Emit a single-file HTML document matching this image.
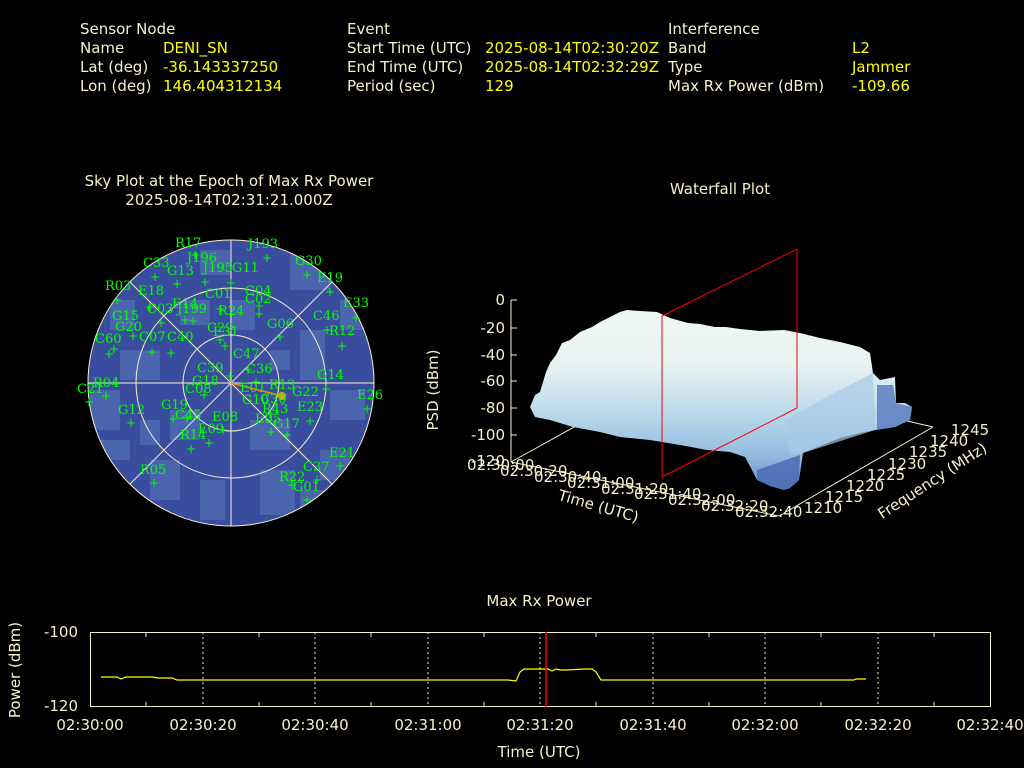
<!DOCTYPE html>
<html><head><meta charset="utf-8"><style>
html,body{margin:0;padding:0;background:#000;width:1024px;height:768px;overflow:hidden}
svg{display:block}
.l{fill:#f5f0c8;font-family:"DejaVu Sans","Liberation Sans",sans-serif;font-size:15px}
.v{fill:#ffff00;font-family:"DejaVu Sans","Liberation Sans",sans-serif;font-size:15px}
.g{fill:#00ff00;font-family:"DejaVu Serif","Liberation Serif",serif;font-size:13px}
.t{fill:#f5f0c8;font-family:"DejaVu Sans","Liberation Sans",sans-serif;font-size:15px}
</style></head><body>
<svg width="1024" height="768" viewBox="0 0 1024 768" xmlns="http://www.w3.org/2000/svg">
<rect width="1024" height="768" fill="#000"/>
<text class="l" x="80" y="34">Sensor Node</text>
<text class="l" x="80" y="53">Name</text><text class="v" x="163" y="53">DENI_SN</text>
<text class="l" x="80" y="72">Lat (deg)</text><text class="v" x="163" y="72">-36.143337250</text>
<text class="l" x="80" y="91">Lon (deg)</text><text class="v" x="163" y="91">146.404312134</text>
<text class="l" x="347" y="34">Event</text>
<text class="l" x="347" y="53">Start Time (UTC)</text><text class="v" x="485" y="53">2025-08-14T02:30:20Z</text>
<text class="l" x="347" y="72">End Time (UTC)</text><text class="v" x="485" y="72">2025-08-14T02:32:29Z</text>
<text class="l" x="347" y="91">Period (sec)</text><text class="v" x="485" y="91">129</text>
<text class="l" x="668" y="34">Interference</text>
<text class="l" x="668" y="53">Band</text><text class="v" x="852" y="53">L2</text>
<text class="l" x="668" y="72">Type</text><text class="v" x="852" y="72">Jammer</text>
<text class="l" x="668" y="91">Max Rx Power (dBm)</text><text class="v" x="852" y="91">-109.66</text>

<text class="t" x="229" y="186" text-anchor="middle" font-size="16">Sky Plot at the Epoch of Max Rx Power</text>
<text class="t" x="229" y="205" text-anchor="middle" font-size="16">2025-08-14T02:31:21.000Z</text>
<defs><clipPath id="cc"><circle cx="231" cy="383" r="143"/></clipPath></defs>
<circle cx="231" cy="383" r="143" fill="#3a4c9e"/>
<g clip-path="url(#cc)" fill="#5677b8" opacity="0.6">
<rect x="290" y="250" width="40" height="40"/><rect x="180" y="300" width="30" height="25"/>
<rect x="120" y="350" width="40" height="30"/><rect x="300" y="330" width="25" height="50"/>
<rect x="250" y="420" width="40" height="30"/><rect x="150" y="460" width="30" height="40"/>
<rect x="330" y="390" width="35" height="30"/><rect x="90" y="390" width="30" height="40"/>
<rect x="200" y="250" width="30" height="25"/><rect x="260" y="470" width="35" height="45"/>
<rect x="170" y="410" width="30" height="30"/><rect x="320" y="450" width="30" height="30"/>
<rect x="230" y="300" width="25" height="30"/><rect x="110" y="300" width="25" height="30"/>
<rect x="200" y="480" width="25" height="40"/><rect x="340" y="300" width="25" height="30"/>
<rect x="270" y="350" width="20" height="20"/><rect x="140" y="420" width="20" height="25"/>
<rect x="100" y="440" width="30" height="20"/><rect x="300" y="490" width="30" height="25"/>
</g>
<g stroke="#f5f0c8" stroke-width="1" fill="none">
<circle cx="231" cy="383" r="143"/><circle cx="231" cy="383" r="95"/><circle cx="231" cy="383" r="48"/>
<line x1="231" y1="240" x2="231" y2="526"/><line x1="88" y1="383" x2="374" y2="383"/>
<line x1="130" y1="282" x2="332" y2="484"/><line x1="130" y1="484" x2="332" y2="282"/>
</g>
<line x1="231" y1="383" x2="282" y2="396" stroke="#ff8c00" stroke-width="1.5"/>
<circle cx="282" cy="396" r="4" fill="#ff9900"/>
<g class="g">
<text x="175" y="247">R17</text><text x="248" y="248">J193</text><text x="187" y="262">J196</text>
<text x="143" y="267">C33</text><text x="167" y="275">G13</text><text x="203" y="272">J195</text>
<text x="232" y="272">G11</text><text x="295" y="265">G30</text><text x="317" y="282">E19</text>
<text x="105" y="290">R03</text><text x="138" y="295">E18</text><text x="205" y="298">C01</text>
<text x="245" y="295">C04</text><text x="245" y="303">C02</text><text x="343" y="307">E33</text>
<text x="172" y="308">E14</text><text x="177" y="313">J199</text><text x="147" y="313">C03</text>
<text x="218" y="315">R24</text><text x="112" y="320">G15</text><text x="267" y="328">G06</text>
<text x="313" y="320">C46</text><text x="329" y="335">R12</text><text x="207" y="332">C29</text>
<text x="213" y="336">E31</text><text x="167" y="341">C40</text><text x="115" y="331">G20</text>
<text x="95" y="343">C60</text><text x="139" y="341">C07</text><text x="233" y="358">C47</text>
<text x="197" y="372">C39</text><text x="246" y="373">C36</text><text x="317" y="379">G14</text>
<text x="93" y="387">R04</text><text x="77" y="393">C21</text><text x="185" y="393">C08</text>
<text x="192" y="385">G18</text><text x="240" y="392">E01</text><text x="269" y="389">R13</text>
<text x="292" y="396">G22</text><text x="357" y="399">E26</text><text x="242" y="404">G10</text>
<text x="260" y="403">C30</text><text x="118" y="414">G12</text><text x="161" y="409">G19</text>
<text x="175" y="419">C45</text><text x="297" y="411">E23</text><text x="262" y="413">R43</text>
<text x="212" y="421">E08</text><text x="255" y="423">E05</text><text x="273" y="428">G17</text>
<text x="198" y="433">E09</text><text x="180" y="439">R14</text><text x="329" y="457">E21</text>
<text x="303" y="471">C37</text><text x="140" y="474">R05</text><text x="279" y="481">R22</text>
<text x="293" y="491">G01</text>
</g>
<g fill="#00ff00" font-family="DejaVu Sans,sans-serif" font-size="12">
<text x="190" y="259">+</text><text x="262" y="262">+</text><text x="150" y="281">+</text><text x="172" y="288">+</text>
<text x="200" y="286">+</text><text x="226" y="287">+</text><text x="302" y="279">+</text><text x="325" y="296">+</text>
<text x="112" y="304">+</text><text x="145" y="311">+</text><text x="215" y="313">+</text><text x="254" y="318">+</text>
<text x="254" y="310">+</text><text x="351" y="322">+</text><text x="180" y="324">+</text><text x="188" y="325">+</text>
<text x="156" y="327">+</text><text x="275" y="341">+</text><text x="322" y="334">+</text><text x="337" y="350">+</text>
<text x="215" y="344">+</text><text x="220" y="350">+</text><text x="166" y="357">+</text><text x="147" y="356">+</text>
<text x="109" y="353">+</text><text x="104" y="358">+</text><text x="128" y="340">+</text><text x="243" y="374">+</text>
<text x="225" y="380">+</text><text x="321" y="393">+</text><text x="101" y="400">+</text><text x="84" y="406">+</text>
<text x="199" y="399">+</text><text x="251" y="386">+</text><text x="362" y="413">+</text><text x="265" y="418">+</text>
<text x="305" y="425">+</text><text x="126" y="427">+</text><text x="168" y="423">+</text><text x="182" y="422">+</text>
<text x="218" y="434">+</text><text x="266" y="436">+</text><text x="282" y="439">+</text><text x="204" y="447">+</text>
<text x="186" y="453">+</text><text x="335" y="470">+</text><text x="312" y="484">+</text><text x="149" y="487">+</text>
<text x="287" y="489">+</text><text x="302" y="504">+</text>
</g>

<text class="t" x="720" y="194" text-anchor="middle">Waterfall Plot</text>
<defs>
<linearGradient id="wf" x1="0" y1="0" x2="0" y2="1">
<stop offset="0" stop-color="#eef7f4"/><stop offset="0.3" stop-color="#e8f3f2"/>
<stop offset="0.55" stop-color="#bfdcec"/><stop offset="0.8" stop-color="#94bce0"/>
<stop offset="1" stop-color="#6a8fcc"/></linearGradient>
</defs>
<g stroke="#f5f0c8" stroke-width="1" fill="none">
<line x1="511" y1="300" x2="511" y2="462"/>
<line x1="511" y1="462" x2="779" y2="516"/>
<line x1="779" y1="516" x2="933" y2="427"/>
<line x1="511" y1="462" x2="650" y2="385"/>
<line x1="933" y1="427" x2="860" y2="410"/>
<line x1="511" y1="300" x2="517" y2="300"/><line x1="511" y1="328" x2="517" y2="328"/>
<line x1="511" y1="355" x2="517" y2="355"/><line x1="511" y1="381" x2="517" y2="381"/>
<line x1="511" y1="408" x2="517" y2="408"/><line x1="511" y1="435" x2="517" y2="435"/>
</g>
<polygon fill="url(#wf)" points="530,407 535,395 540,392 546,372 550,363 556,355 562,343 570,340 580,332 592,327 600,322 610,317 620,312 627,310 640,311 657,312 670,318 688,323 700,324 715,327 726,327 740,329 760,331 784,330 800,333 820,338 840,342 860,347 870,353 873,373 880,380 895,377 896,403 905,403 912,407 910,420 895,427 875,430 860,433 840,438 820,446 803,453 799,480 790,488 784,490 770,486 757,480 752,470 745,457 730,452 707,450 680,445 650,440 620,437 600,432 573,427 550,420 535,417"/>
<polygon fill="#a8cbe6" opacity="0.7" points="785,420 830,395 873,373 875,430 803,453 790,455"/>
<polygon fill="#5a7fc0" opacity="0.85" points="877,385 893,385 896,403 912,407 910,420 895,427 877,430"/>
<polygon fill="#4a6cb4" opacity="0.85" points="757,470 780,462 800,455 799,480 790,488 784,490 770,486 757,480"/>
<polygon fill="none" stroke="#ff0000" stroke-width="1" points="662,316 797,249 797,408 662,477"/>
<g class="t" font-size="15">
<text x="505" y="305" text-anchor="end">0</text>
<text x="505" y="333" text-anchor="end">-20</text>
<text x="505" y="360" text-anchor="end">-40</text>
<text x="505" y="386" text-anchor="end">-60</text>
<text x="505" y="413" text-anchor="end">-80</text>
<text x="505" y="440" text-anchor="end">-100</text>
<text x="505" y="466" text-anchor="end">-120</text>
<text x="467" y="470">02:30:00</text><text x="500" y="476">02:30:20</text>
<text x="534" y="482">02:30:40</text><text x="567" y="488">02:31:00</text>
<text x="601" y="494">02:31:20</text><text x="634" y="499">02:31:40</text>
<text x="668" y="505">02:32:00</text><text x="701" y="511">02:32:20</text>
<text x="735" y="517">02:32:40</text>
<text x="804" y="513">1210</text><text x="825" y="502">1215</text><text x="846" y="491">1220</text>
<text x="867" y="480">1225</text><text x="888" y="469">1230</text><text x="909" y="457">1235</text>
<text x="930" y="446">1240</text><text x="951" y="435">1245</text>
<text transform="translate(438,390) rotate(-90)" text-anchor="middle">PSD (dBm)</text>
<text transform="translate(597,511) rotate(16)" text-anchor="middle">Time (UTC)</text>
<text transform="translate(935,485) rotate(-33)" text-anchor="middle">Frequency (MHz)</text>
</g>

<text class="t" x="539" y="606" text-anchor="middle">Max Rx Power</text>
<g stroke="#f5f0c8" stroke-width="1" stroke-dasharray="2,3" fill="none">
<line x1="203" y1="632" x2="203" y2="707"/><line x1="315" y1="632" x2="315" y2="707"/>
<line x1="428" y1="632" x2="428" y2="707"/><line x1="540" y1="632" x2="540" y2="707"/>
<line x1="653" y1="632" x2="653" y2="707"/><line x1="765" y1="632" x2="765" y2="707"/>
<line x1="878" y1="632" x2="878" y2="707"/>
</g>
<rect x="90.5" y="632.5" width="900" height="74" fill="none" stroke="#f5f0c8" stroke-width="1"/>
<g stroke="#f5f0c8" stroke-width="1">
<line x1="146" y1="632" x2="146" y2="637"/><line x1="146" y1="707" x2="146" y2="702"/>
<line x1="259" y1="632" x2="259" y2="637"/><line x1="259" y1="707" x2="259" y2="702"/>
<line x1="371" y1="632" x2="371" y2="637"/><line x1="371" y1="707" x2="371" y2="702"/>
<line x1="484" y1="632" x2="484" y2="637"/><line x1="484" y1="707" x2="484" y2="702"/>
<line x1="596" y1="632" x2="596" y2="637"/><line x1="596" y1="707" x2="596" y2="702"/>
<line x1="709" y1="632" x2="709" y2="637"/><line x1="709" y1="707" x2="709" y2="702"/>
<line x1="821" y1="632" x2="821" y2="637"/><line x1="821" y1="707" x2="821" y2="702"/>
<line x1="934" y1="632" x2="934" y2="637"/><line x1="934" y1="707" x2="934" y2="702"/>
</g>
<polyline fill="none" stroke="#ffff00" stroke-width="1.2" points="101,677 117,677 121,679 126,677 152,677 158,678 172,678 177,680 508,680 516,681 520,672 524,669 534,669 548,669 552,671 556,669 560,670 566,670 585,669 592,669 596,672 601,680 854,680 856,679 866,679"/>
<line x1="546" y1="632" x2="546" y2="707" stroke="#ff0000" stroke-width="1.5"/>
<g class="t">
<text x="78" y="637" text-anchor="end">-100</text>
<text x="78" y="711" text-anchor="end">-120</text>
<text x="90" y="730" text-anchor="middle">02:30:00</text><text x="203" y="730" text-anchor="middle">02:30:20</text>
<text x="315" y="730" text-anchor="middle">02:30:40</text><text x="428" y="730" text-anchor="middle">02:31:00</text>
<text x="540" y="730" text-anchor="middle">02:31:20</text><text x="653" y="730" text-anchor="middle">02:31:40</text>
<text x="765" y="730" text-anchor="middle">02:32:00</text><text x="878" y="730" text-anchor="middle">02:32:20</text>
<text x="990" y="730" text-anchor="middle">02:32:40</text>
<text x="539" y="757" text-anchor="middle">Time (UTC)</text>
<text transform="translate(20,670) rotate(-90)" text-anchor="middle">Power (dBm)</text>
</g>
</svg>
</body></html>
